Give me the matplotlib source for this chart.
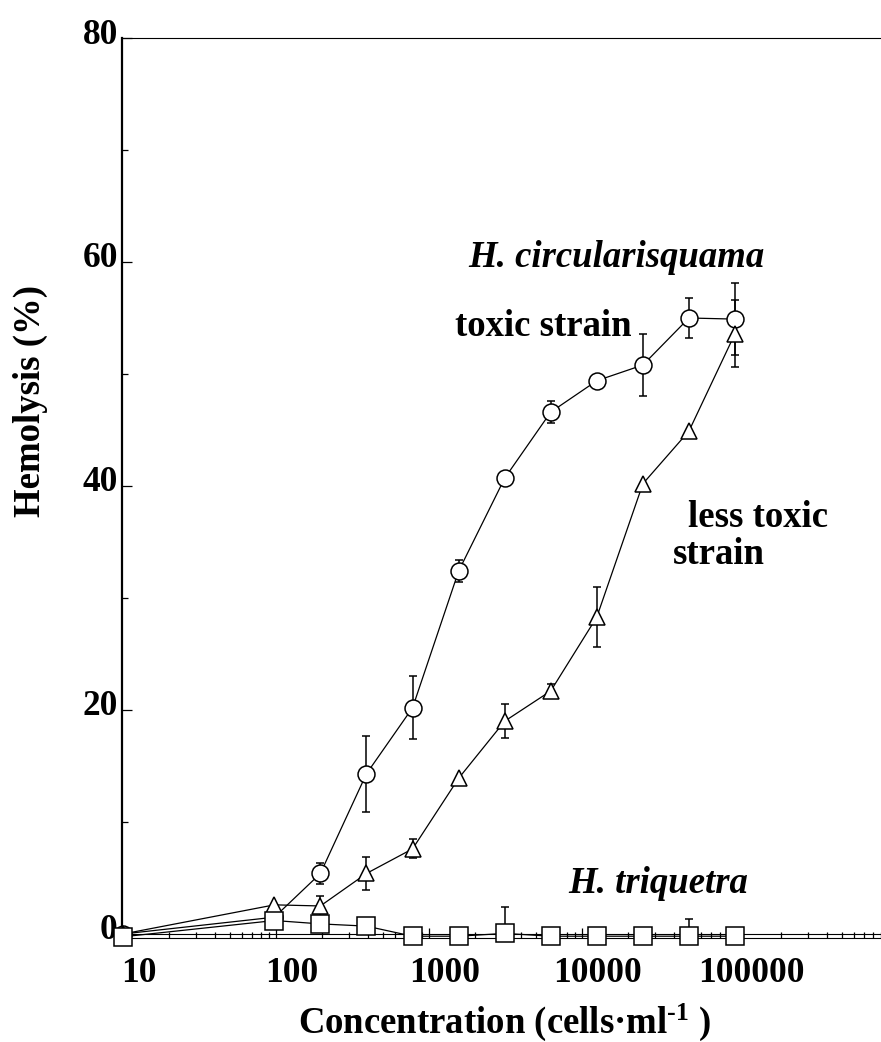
import matplotlib
matplotlib.use("Agg")
import matplotlib.pyplot as plt
import matplotlib.ticker as ticker
from matplotlib.transforms import ScaledTranslation

plt.rcParams['font.family'] = ['Liberation Serif', 'DejaVu Serif']
plt.rcParams['font.weight'] = 'bold'
plt.rcParams['axes.labelweight'] = 'bold'
plt.rcParams['mathtext.fontset'] = 'custom'
plt.rcParams['mathtext.rm'] = 'Liberation Serif:bold'
plt.rcParams['mathtext.it'] = 'Liberation Serif:bold:italic'
plt.rcParams['mathtext.bf'] = 'Liberation Serif:bold'

# cell concentrations (cells/ml), first point is the control
conc = [10, 97.7, 195, 390, 781, 1562, 3125, 6250, 12500, 25000, 50000, 100000]

# H. circularisquama, toxic strain
toxic = [0, 1.5, 5.4, 14.3, 20.2, 32.4, 40.7, 46.6, 49.4, 50.8, 55.0, 54.9]
toxic_err = [0, 0, 0.9, 3.4, 2.8, 1.0, 0, 1.0, 0.2, 2.8, 1.8, 3.2]

# H. circularisquama, less toxic strain
less_toxic = [0, 2.6, 2.5, 5.4, 7.6, 13.9, 19.0, 21.7, 28.3, 40.2, 44.9, 53.6]
less_toxic_err = [0, 0, 0.9, 1.45, 0.85, 0, 1.5, 0.6, 2.7, 0, 0, 3.0]

# H. triquetra
triquetra = [-0.25, 1.2, 0.9, 0.7, -0.2, -0.2, 0.05, -0.2, -0.2, -0.2, -0.2, -0.2]
triquetra_err = [0, 0, 0, 0, 0, 0, 2.4, 0, 0, 0, 1.5, 0.3]

xticks = [10, 100, 1000, 10000, 100000]
xticklabels = ["10", "100", "1000", "10000", "100000"]
yticks = [0, 20, 40, 60, 80]
yminor = [10, 30, 50, 70]

W, H = 881, 1042
fig = plt.figure(figsize=(W / 100, H / 100), dpi=100)
ax = fig.add_axes([122 / W, 1 - 938 / H, 1 - 122 / W, (938 - 38) / H])

ax.set_xscale('log')
ax.set_xlim(10 ** (1 - 1 / 153), 10 ** (1 + (W - 123) / 153))
ax.set_ylim(-0.36, 80)


def series(y, err, marker, ms):
    ax.errorbar(conc, y, yerr=err, fmt='none', ecolor='black', elinewidth=1.1,
                capsize=3, capthick=1.1, zorder=3)
    ax.plot(conc, y, color='black', lw=0.9, marker=marker, ms=ms, mfc='white',
            mec='black', mew=1.1, zorder=4, clip_on=False)


series(toxic, toxic_err, 'o', 12.2)
series(less_toxic, less_toxic_err, '^', 11.5)
series(triquetra, triquetra_err, 's', 13.2)

ax.axhline(0, color='black', lw=0.8, zorder=2)

ax.spines['right'].set_visible(False)
ax.spines['left'].set_linewidth(1.6)
ax.spines['top'].set_linewidth(0.8)
ax.spines['bottom'].set_linewidth(0.8)

ax.xaxis.set_major_locator(ticker.FixedLocator(xticks))
ax.xaxis.set_major_formatter(ticker.FixedFormatter(xticklabels))
ax.xaxis.set_minor_locator(ticker.LogLocator(base=10, subs=range(2, 10)))
ax.xaxis.set_minor_formatter(ticker.NullFormatter())
ax.yaxis.set_major_locator(ticker.FixedLocator(yticks))
ax.yaxis.set_minor_locator(ticker.FixedLocator(yminor))

ax.tick_params(which='both', direction='in', top=False, right=False, width=0.9)
ax.tick_params(which='major', length=7)
ax.tick_params(which='minor', length=4.5)
ax.tick_params(axis='x', which='major', labelsize=25.5, pad=14)
ax.tick_params(axis='y', which='major', labelsize=25.5, pad=3)

# shift tick labels the way the original layout has them
dx = ScaledTranslation(16 / 100, 0, fig.dpi_scale_trans)
for lab in ax.get_xticklabels():
    lab.set_transform(lab.get_transform() + dx)
dy = ScaledTranslation(0, 7 / 100, fig.dpi_scale_trans)
for lab in ax.get_yticklabels():
    lab.set_transform(lab.get_transform() + dy)

fs = 26.5
ax.text(1799, 59.55, "H. circularisquama", style='italic', fontsize=fs, ha='left', va='baseline')
ax.text(1479, 53.4, "toxic strain", fontsize=fs, ha='left', va='baseline')
ax.text(49300, 36.37, "less toxic", fontsize=fs, ha='left', va='baseline')
ax.text(39350, 33.0, "strain", fontsize=fs, ha='left', va='baseline')
ax.text(8090, 3.66, "H. triquetra", style='italic', fontsize=fs, ha='left', va='baseline')

ax.set_xlabel(r"Concentration (cells·ml$^{\text{-}1}$ )", fontsize=fs, va='baseline')
ax.xaxis.set_label_coords((504.5 - 122) / (W - 122), (938 - 1033) / 900)
ax.set_ylabel("Hemolysis (%)", fontsize=fs, va='center')
ax.yaxis.set_label_coords((30 - 122) / (W - 122), (938 - 401) / 900)

plt.savefig("out.png", dpi=100)
